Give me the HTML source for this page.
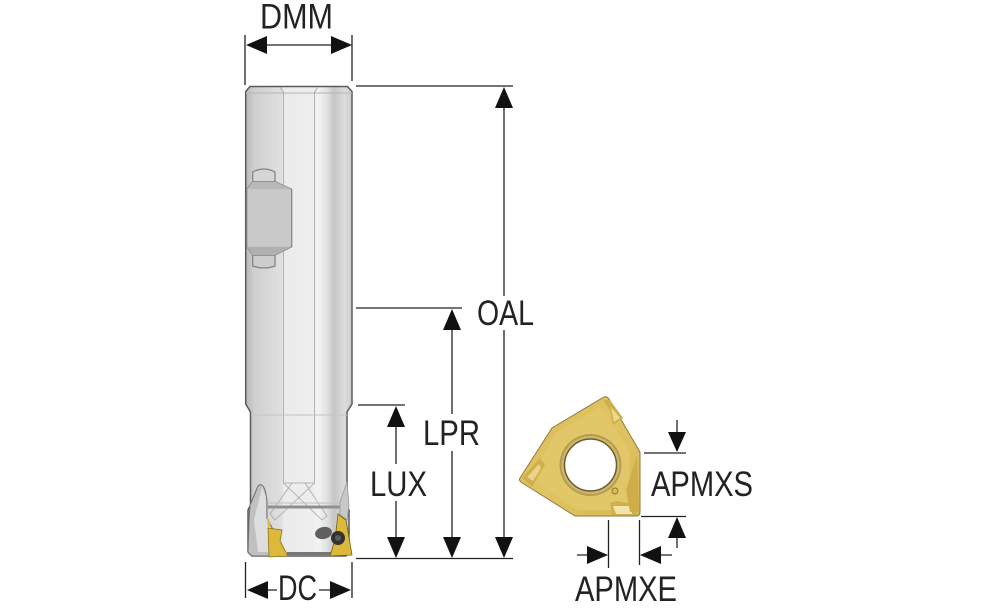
<!DOCTYPE html>
<html><head><meta charset="utf-8"><style>
html,body{margin:0;padding:0;background:#fff}
svg{display:block}
text{font-family:"Liberation Sans Narrow","Liberation Sans",sans-serif;font-size:35px;fill:#222}
</style></head><body>
<svg width="1000" height="611" viewBox="0 0 1000 611" xmlns="http://www.w3.org/2000/svg">
<defs>
<linearGradient id="g" x1="0" x2="1" y1="0" y2="0">
<stop offset="0" stop-color="#b8b8b8"/><stop offset=".08" stop-color="#cfcfcf"/><stop offset=".34" stop-color="#e0e0e0"/>
<stop offset=".36" stop-color="#ebebeb"/><stop offset=".64" stop-color="#eeeeee"/><stop offset=".68" stop-color="#f3f3f3"/>
<stop offset=".76" stop-color="#e2e2e2"/><stop offset=".83" stop-color="#c6c6c6"/><stop offset=".93" stop-color="#dcdcdc"/><stop offset="1" stop-color="#cccccc"/>
</linearGradient>
<linearGradient id="y" x1="0" x2="1" y1="0" y2="1"><stop offset="0" stop-color="#dcbd55"/><stop offset=".5" stop-color="#e0c464"/><stop offset="1" stop-color="#d8b850"/></linearGradient>
<filter id="b"><feGaussianBlur stdDeviation=".5"/></filter>
<filter id="s"><feGaussianBlur stdDeviation=".35"/></filter>
</defs>

<g filter="url(#s)">
<!-- tool body -->
<path d="M250,86.500H347.500L352,91.500V404L347,412V505L349,510V551L346,556H252L248,552V510L250.500,505V412L245.700,404V91.500Z" fill="url(#g)" stroke="#5a5a5a" stroke-width="1.500"/>
<path d="M246,93H352" stroke="#b5b5b5" stroke-width="1"/>
<path d="M280,87L284,93M318,87L314,93" stroke="#aaa" fill="none"/>
<path d="M283.500,93V483H314.500V93" stroke="#a3a3a3" fill="none" stroke-width=".8"/>
<path d="M247,409.500H349" stroke="#9a9a9a" stroke-width="4" filter="url(#b)"/>
<path d="M251,415H347" stroke="#c4c4c4" stroke-width="1"/>
<!-- key -->
<g stroke="#808080" stroke-width="1.200">
<path d="M252.700,181.700V172Q264,166 275,172V181.700Z" fill="#d6d6d6"/>
<path d="M252.700,255V266Q264,270 275,266V255Z" fill="#cdcdcd"/>
<path d="M246.700,189.300L252.700,181.700H275L291.700,189.300V246.700L275,255H252.700L246.700,246.700Z" fill="#c9c9c9"/>
</g>
<path d="M252.700,181.700H275L291.700,189.300H246.700Z" fill="#b8b8b8"/>
<path d="M246.700,246.700H291.700L275,255H252.700Z" fill="#b0b0b0"/>

<!-- head -->
<g fill="none" stroke="#a8a8a8" stroke-width=".8">
<path d="M283.500,483L322,520L327,516L305,483M314.500,483L275,520L270,514L292,483"/>
</g>
<path d="M268,507H340" stroke="#8f8f8f" stroke-width="3"/>
<path d="M268,503H340" stroke="#c0c0c0" stroke-width="1"/>
<path d="M250,505L258,486Q262,482 265,490L267,500V518L285,553L288,556H252L248,552L249,520Z" fill="#c0c0c0" stroke="#6e6e6e" stroke-width="1"/>
<path d="M254,520L262,487L266,497V518L282,552H258Z" fill="#dedede"/>
<path d="M347,482L340,502V515L347,520L349,505Z" fill="#c8c8c8" stroke="#999" stroke-width=".8"/>
<path d="M287,553.500H331" stroke="#777" stroke-width="3"/>
<ellipse cx="323.500" cy="533" rx="8.500" ry="6" fill="#5e5e5e" transform="rotate(-12 323.500 533)"/>
<path d="M268,528L282,530L280,541L288,556L269,557Z" fill="#dcb93a" stroke="#8a7320" stroke-width=".8"/>
<path d="M267,517L271,524L268,528Z" fill="#dcb93a"/>
<path d="M338,514L346,520L352,555L330,556L335,540Z" fill="#dcb93a" stroke="#6e5d1f" stroke-width=".8"/>
<circle cx="338" cy="538" r="7" fill="#333"/><circle cx="338" cy="538" r="3" fill="#5a5a5a"/>

<!-- insert -->
<path d="M520,478L552,428L604,397Q607,396 609,399L640,452V512Q640,516 636,516H575L524,484Q518,481 520,478Z" fill="url(#y)" stroke="#8f7a3a" stroke-width="1"/>
<path d="M530,478L556,433L600,407L630,452L628,510H577Z" fill="#e2c768"/>
<path d="M522,478L540,458L545,465L532,487Z" fill="#d0b04e"/>
<path d="M527,477L539,464L541,468L533,481Z" fill="#e9d48a"/>
<path d="M603,400L610,400L623,418L613,425L610,410Z" fill="#d0b04e"/>
<path d="M611,407L620,418L614,422Z" fill="#ecd88e"/>
<path d="M610,503L618,501L636,505V515H612Z" fill="#d0b04e"/>
<path d="M613,506H632V514H616Z" fill="#f1e4ac"/>
<path d="M637,455L639,512H630L626,490Z" fill="#cfae48"/>
<circle cx="590.500" cy="465" r="31" fill="#b39c55"/>
<circle cx="590.500" cy="465" r="29" fill="#d0b768"/>
<circle cx="590.500" cy="465" r="26" fill="#fff" stroke="#6b5b2d" stroke-width="1.500"/>
<circle cx="615" cy="491" r="3" fill="#d8bc5c" stroke="#8d7835" stroke-width="1"/>
</g>

<!-- dimension lines -->
<g stroke="#222" stroke-width="1.300" fill="none">
<path d="M245,35V85M352,35V81M266,45H332"/>
<path d="M356,86H513M356,308H462M358,405H405M356,558.500H513"/>
<path d="M504,106V296M504,330V540"/>
<path d="M452,326V414M452,451V540"/>
<path d="M396,424V464M396,501V540"/>
<path d="M245.500,562V598M352,562V598M266,590H277M319,590H332"/>
<path d="M644,453H686M641,516.500H686M677,420V434M677,536V548"/>
<path d="M608.500,520V568M639.500,520V565M577,555H590M658,555H672"/>
</g>
<g fill="#111">
<path d="M246,45L267,36V54Z"/><path d="M352,45L331,36V54Z"/>
<path d="M504,87L495,108H513Z"/><path d="M504,558L495,537H513Z"/>
<path d="M452,309L443,330H461Z"/><path d="M452,558L443,537H461Z"/>
<path d="M396,406L387,427H405Z"/><path d="M396,558L387,537H405Z"/>
<path d="M247,590L268,581V599Z"/><path d="M351,590L330,581V599Z"/>
<path d="M677,452L668,432H686Z"/><path d="M677,517L668,538H686Z"/>
<path d="M608,555L587,546V564Z"/><path d="M640,555L661,546V564Z"/>
</g>

<!-- labels -->
<text x="260" y="28.500" textLength="73" lengthAdjust="spacingAndGlyphs">DMM</text>
<text x="477" y="325" textLength="57" lengthAdjust="spacingAndGlyphs">OAL</text>
<text x="423" y="445" textLength="57" lengthAdjust="spacingAndGlyphs">LPR</text>
<text x="370" y="496" textLength="57" lengthAdjust="spacingAndGlyphs">LUX</text>
<text x="278" y="600" textLength="39" lengthAdjust="spacingAndGlyphs">DC</text>
<text x="651" y="496" textLength="102" lengthAdjust="spacingAndGlyphs">APMXS</text>
<text x="575" y="601" textLength="102" lengthAdjust="spacingAndGlyphs">APMXE</text>
</svg>
</body></html>
